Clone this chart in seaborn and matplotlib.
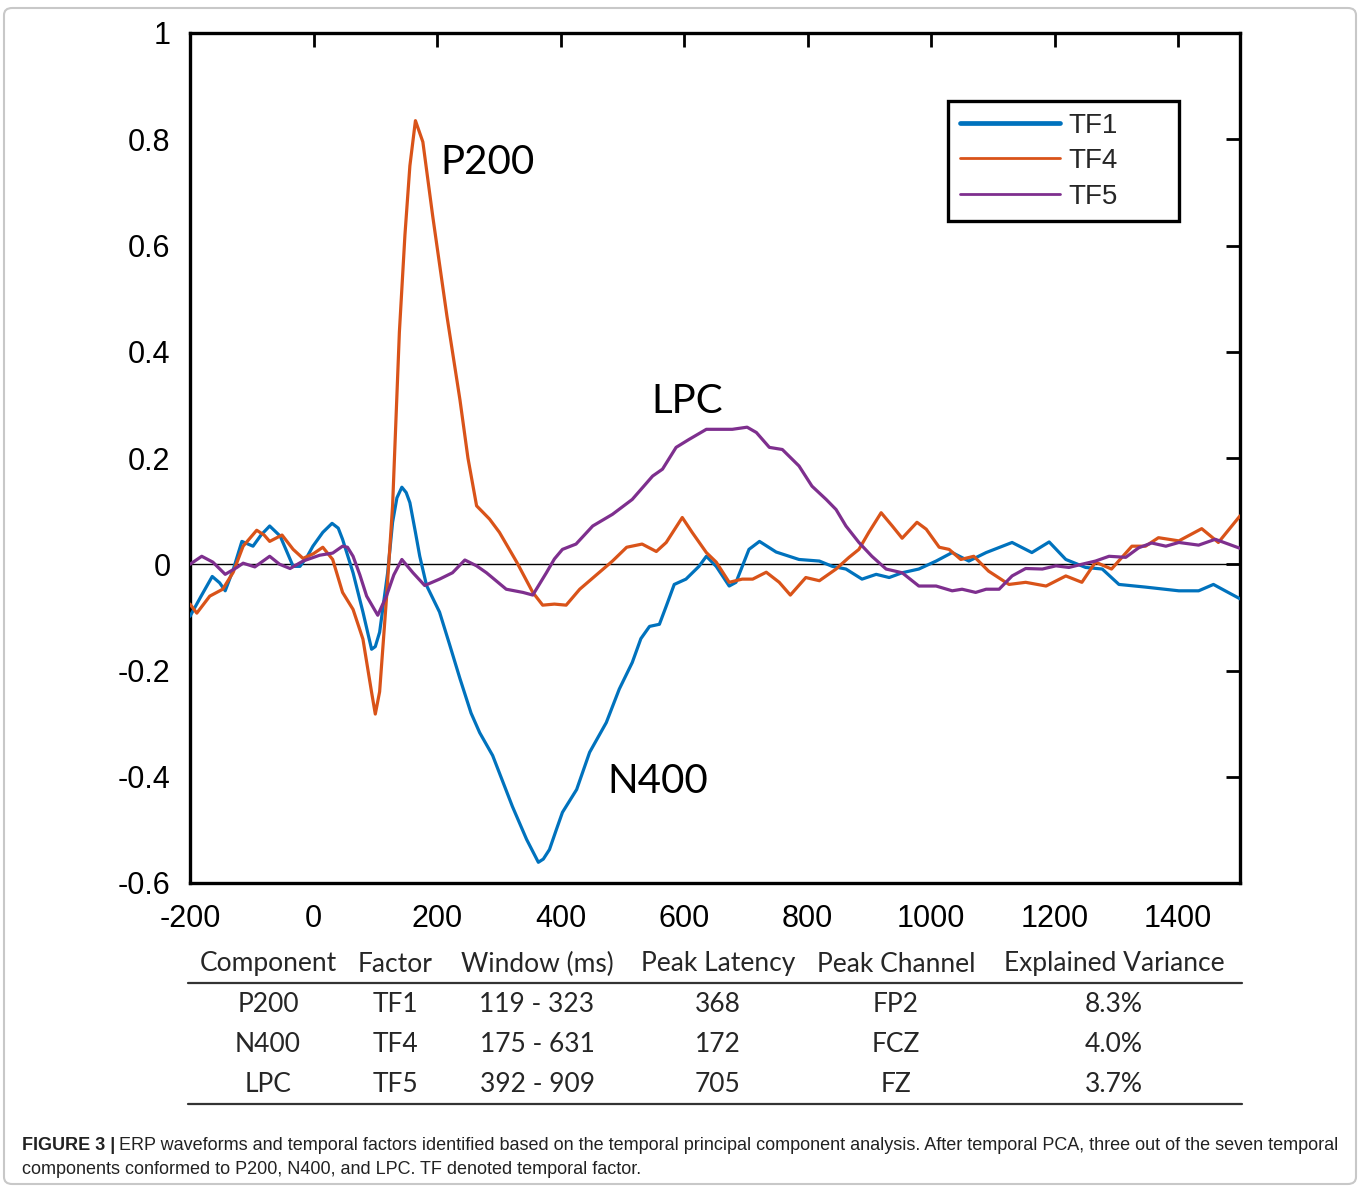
import numpy as np
import pandas as pd
import matplotlib
matplotlib.use("Agg")
import matplotlib.pyplot as plt
from matplotlib.patches import FancyBboxPatch
import seaborn as sns

# ---- data ----
tf1_t = [-200, -182, -164, -152, -143, -130, -116, -98, -85, -71, -54, -40, -33, -22, -10, -1, 15, 30, 40, 47,
         64, 80, 94, 100, 107, 120, 128, 135, 143, 150, 156, 165, 172, 183, 204, 220, 237, 255, 269, 290,
         305, 322, 345, 364, 372, 382, 393, 403, 426, 447, 474, 495, 516, 530, 544, 560, 571, 584, 603, 624,
         636, 652, 673, 684, 705, 722, 749, 786, 819, 840, 862, 888, 911, 932, 953, 980, 1008, 1034, 1061, 1089,
         1131, 1163, 1191, 1218, 1250, 1277, 1304, 1347, 1401, 1433, 1457, 1476, 1500]
tf1_v = [-0.098, -0.06, -0.023, -0.035, -0.05, -0.01, 0.043, 0.034, 0.055, 0.072, 0.053, 0.015, -0.004, -0.004, 0.015, 0.034, 0.06, 0.077, 0.068, 0.047,
         -0.016, -0.09, -0.16, -0.155, -0.128, -0.016, 0.079, 0.125, 0.145, 0.135, 0.116, 0.06, 0.015, -0.04, -0.09, -0.15, -0.215, -0.28, -0.317, -0.36,
         -0.405, -0.456, -0.518, -0.561, -0.555, -0.537, -0.5, -0.467, -0.424, -0.354, -0.298, -0.235, -0.185, -0.14, -0.117, -0.113, -0.079, -0.038, -0.028, -0.004,
         0.015, -0.004, -0.041, -0.034, 0.028, 0.043, 0.023, 0.009, 0.006, -0.004, -0.009, -0.028, -0.019, -0.025, -0.016, -0.009, 0.006, 0.022, 0.006, 0.022,
         0.041, 0.022, 0.042, 0.009, -0.006, -0.009, -0.038, -0.043, -0.05, -0.05, -0.038, -0.05, -0.065]

tf4_t = [-200, -189, -168, -147, -130, -114, -92, -80, -71, -51, -33, -17, 0, 15, 31, 47, 64, 80, 94, 100,
         107, 118, 128, 139, 148, 156, 165, 177, 193, 216, 237, 250, 264, 285, 301, 329, 355, 371, 390, 409,
         431, 463, 484, 507, 532, 555, 571, 597, 613, 636, 652, 673, 694, 711, 733, 754, 772, 797, 819, 846,
         867, 883, 899, 919, 937, 953, 977, 992, 1013, 1029, 1048, 1069, 1093, 1126, 1153, 1186, 1218, 1244, 1266, 1292,
         1325, 1347, 1368, 1401, 1438, 1465, 1500]
tf4_v = [-0.075, -0.092, -0.06, -0.047, -0.015, 0.034, 0.064, 0.055, 0.043, 0.055, 0.028, 0.011, 0.02, 0.032, 0.009, -0.053, -0.085, -0.141, -0.241, -0.282,
         -0.24, -0.066, 0.11, 0.437, 0.62, 0.75, 0.835, 0.795, 0.655, 0.467, 0.31, 0.2, 0.11, 0.085, 0.06, 0.004, -0.053, -0.077, -0.075, -0.077,
         -0.047, -0.015, 0.006, 0.032, 0.038, 0.024, 0.041, 0.088, 0.06, 0.022, 0.004, -0.034, -0.028, -0.028, -0.015, -0.034, -0.058, -0.025, -0.031, -0.009,
         0.013, 0.028, 0.06, 0.097, 0.072, 0.049, 0.079, 0.066, 0.032, 0.028, 0.009, 0.015, -0.013, -0.038, -0.034, -0.041, -0.022, -0.034, 0.004, -0.009,
         0.034, 0.034, 0.05, 0.044, 0.067, 0.041, 0.091]

tf5_t = [-200, -181, -163, -143, -124, -114, -95, -71, -55, -38, -17, 10, 31, 47, 55, 64, 75, 86, 104, 118,
         130, 143, 161, 180, 204, 225, 245, 264, 280, 312, 339, 355, 377, 390, 403, 425, 452, 484, 516, 549,
         565, 587, 608, 636, 678, 702, 717, 738, 759, 786, 807, 830, 846, 862, 883, 904, 927, 953, 980, 1008,
         1034, 1050, 1072, 1089, 1110, 1131, 1153, 1180, 1202, 1223, 1244, 1266, 1288, 1315, 1336, 1357, 1380, 1401, 1433, 1460,
         1500]
tf5_v = [0.0, 0.015, 0.004, -0.019, -0.006, 0.002, -0.005, 0.015, 0.0, -0.008, 0.006, 0.017, 0.021, 0.034, 0.032, 0.015, -0.02, -0.06, -0.096, -0.06,
         -0.02, 0.009, -0.016, -0.04, -0.028, -0.016, 0.008, -0.003, -0.016, -0.047, -0.053, -0.058, -0.016, 0.01, 0.028, 0.038, 0.072, 0.094, 0.122, 0.166,
         0.179, 0.22, 0.235, 0.254, 0.254, 0.258, 0.248, 0.22, 0.216, 0.185, 0.147, 0.122, 0.103, 0.072, 0.041, 0.015, -0.009, -0.016, -0.041, -0.041,
         -0.05, -0.047, -0.053, -0.047, -0.047, -0.022, -0.008, -0.009, -0.003, -0.006, 0.0, 0.006, 0.015, 0.013, 0.031, 0.04, 0.034, 0.041, 0.036, 0.047,
         0.03]

factors = ["TF1", "TF4", "TF5"]
colors = ["#0072BD", "#D95319", "#7E2F8E"]

labels = ["P200", "LPC", "N400"]
label_t = [282, 605, 558]
label_v = [0.757, 0.307, -0.409]

x_ticks = [-200, 0, 200, 400, 600, 800, 1000, 1200, 1400]
y_ticks = [-0.6, -0.4, -0.2, 0, 0.2, 0.4, 0.6, 0.8, 1]
y_ticklabels = ["-0.6", "-0.4", "-0.2", "0", "0.2", "0.4", "0.6", "0.8", "1"]

table_header = ["Component", "Factor", "Window (ms)", "Peak Latency", "Peak Channel", "Explained Variance"]
table_rows = [
    ["P200", "TF1", "119 - 323", "368", "FP2", "8.3%"],
    ["N400", "TF4", "175 - 631", "172", "FCZ", "4.0%"],
    ["LPC", "TF5", "392 - 909", "705", "FZ", "3.7%"],
]

caption_bold = "FIGURE 3 |"
caption_1 = ("ERP waveforms and temporal factors identified based on the temporal principal component analysis. "
             "After temporal PCA, three out of the seven temporal")
caption_2 = "components conformed to P200, N400, and LPC. TF denoted temporal factor."

df = pd.concat([
    pd.DataFrame({"time": tf1_t, "amp": tf1_v, "factor": "TF1"}),
    pd.DataFrame({"time": tf4_t, "amp": tf4_v, "factor": "TF4"}),
    pd.DataFrame({"time": tf5_t, "amp": tf5_v, "factor": "TF5"}),
])

sns.set_style("white")
plt.rcParams["font.family"] = ["Liberation Sans", "DejaVu Sans"]
plt.rcParams["axes.unicode_minus"] = False

W, H = 1360, 1188
fig = plt.figure(figsize=(W / 100, H / 100), dpi=100)
fig.patch.set_facecolor("white")

def fx(px):
    return px / W

def fy(py):
    return 1 - py / H

# outer frame
fig.patches.append(FancyBboxPatch((fx(4), fy(1184)), fx(1352), 1176 / H, boxstyle="round,pad=0,rounding_size=0.006",
                                  transform=fig.transFigure, fill=False, edgecolor="#c8c8c8", linewidth=1.5))

ax = fig.add_axes([fx(190), fy(883), fx(1050), 850 / H])
ax.axhline(0, color="black", linewidth=1.0, zorder=1)
sns.lineplot(data=df, x="time", y="amp", hue="factor", palette=dict(zip(factors, colors)),
             estimator=None, sort=True, linewidth=2.3, ax=ax, zorder=3)

ax.set_xlim(-200, 1500)
ax.set_ylim(-0.6, 1)
ax.set_xticks(x_ticks)
ax.set_xticklabels([str(t) for t in x_ticks])
ax.set_yticks(y_ticks)
ax.set_yticklabels(y_ticklabels)
ax.tick_params(direction="in", length=10, width=2, top=True, right=True, labelsize=22, pad=14, colors="black")
ax.tick_params(axis="x", pad=15)
ax.set_xlabel("")
ax.set_ylabel("")
for s in ax.spines.values():
    s.set_visible(True)
    s.set_color("black")
    s.set_linewidth(2.4)

for lab, t, v in zip(labels, label_t, label_v):
    ax.text(t, v, lab, fontsize=29, family=["Lato", "DejaVu Sans"], ha="center", va="center", color="black")

leg = ax.legend(loc="upper left", bbox_to_anchor=(0.722, 0.5, 0.22, 0.42), mode="expand", fontsize=20,
                frameon=True, fancybox=False, framealpha=1, handlelength=3.6, handletextpad=0.3, borderpad=0.42,
                labelspacing=0.34, borderaxespad=0)
leg.get_frame().set_edgecolor("black")
leg.get_frame().set_linewidth(2.4)
for h, lw in zip(leg.get_lines(), [3.4, 2.0, 2.0]):
    h.set_linewidth(lw)

# table below the chart
col_x = [268, 395, 537, 718, 896, 1114]
tfont = ["Lato", "DejaVu Sans"]
for cx, txt in zip(col_x, table_header):
    fig.text(fx(cx), fy(964), txt, ha="center", va="center", fontsize=19, family=tfont)
row_y = [1004, 1045, 1085]
for ry, row in zip(row_y, table_rows):
    for cx, txt in zip(col_x, row):
        fig.text(fx(cx), fy(ry), txt, ha="center", va="center", fontsize=19, family=tfont)
for ly in (983, 1104):
    fig.add_artist(plt.Line2D([fx(188), fx(1242)], [fy(ly), fy(ly)], transform=fig.transFigure,
                              color="#333333", linewidth=1.6))

# caption
cfont = ["Liberation Sans", "DejaVu Sans"]
t1 = fig.text(fx(22), fy(1146), caption_bold, ha="left", va="center", fontsize=13, weight="bold", family=cfont,
              color="#222222")
fig.canvas.draw()
bb = t1.get_window_extent()
fig.text(bb.x1 / W + fx(4), fy(1146), caption_1, ha="left", va="center", fontsize=13, family=cfont, color="#222222")
fig.text(fx(22), fy(1170), caption_2, ha="left", va="center", fontsize=13, family=cfont, color="#222222")

fig.savefig("out.png", dpi=100, facecolor="white")
